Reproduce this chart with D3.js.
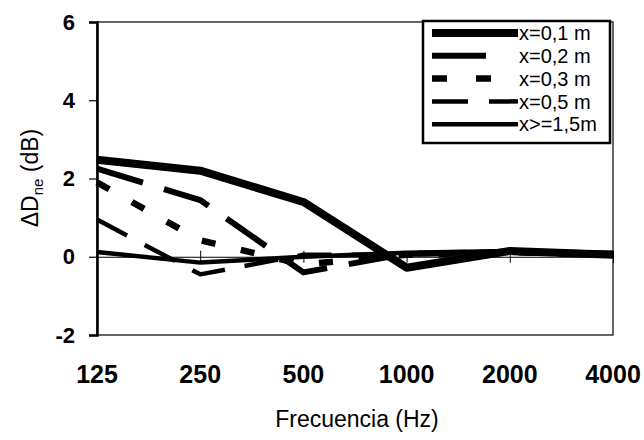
<!DOCTYPE html>
<html>
<head>
<meta charset="utf-8">
<script src="https://cdn.jsdelivr.net/npm/d3@7"></script>
<style>
  body { margin: 0; background: #fff; }
  svg { display: block; font-family: "Liberation Sans", Arial, sans-serif; }
</style>
</head>
<body>
<svg id="chart" width="644" height="440"></svg>
<script>
// values
var freqs = ["125", "250", "500", "1000", "2000", "4000"];
var yTicks = [-2, 0, 2, 4, 6];
var x01 = [2.48, 2.2, 1.4, -0.28, 0.15, 0.05];
var x02 = [2.25, 1.45, -0.4, 0.08, 0.12, 0.05];
var x03 = [1.9, 0.42, -0.2, 0.05, 0.12, 0.05];
var x05 = [0.95, -0.45, 0.05, 0.05, 0.12, 0.08];
var x15 = [0.12, -0.15, 0.0, 0.1, 0.15, 0.1];
var seriesNames = ["x=0,1 m", "x=0,2 m", "x=0,3 m", "x=0,5 m", "x>=1,5m"];

var series = [
  { name: seriesNames[0], values: x01, width: 8, dash: null, legendDash: null },
  { name: seriesNames[1], values: x02, width: 6, dash: "48,22", legendDash: "54,32" },
  { name: seriesNames[2], values: x03, width: 6.5, dash: "14,26", legendDash: "15,29" },
  { name: seriesNames[3], values: x05, width: 4.5, dash: "34,20", legendDash: "36,21" },
  { name: seriesNames[4], values: x15, width: 4.5, dash: null, legendDash: null }
];

var svg = d3.select("#chart"),
    margin = {top: 22, right: 31, bottom: 105, left: 97},
    width = +svg.attr("width") - margin.left - margin.right,
    height = +svg.attr("height") - margin.top - margin.bottom,
    g = svg.append("g").attr("transform", "translate(" + margin.left + "," + margin.top + ")");

var x = d3.scalePoint().domain(freqs).range([0, width]),
    y = d3.scaleLinear().domain([-2, 6]).range([height, 0]);

// plot frame
g.append("rect")
    .attr("width", width)
    .attr("height", height)
    .attr("fill", "none")
    .attr("stroke", "#000")
    .attr("stroke-width", 1.2);

// value axis
var yAxis = g.append("g")
    .call(d3.axisLeft(y).tickValues(yTicks).tickSize(8).tickPadding(14).tickFormat(d3.format("d")));
yAxis.select(".domain").attr("stroke-width", 2.5);
yAxis.selectAll(".tick line").attr("stroke-width", 1.2);
yAxis.selectAll("text")
    .attr("font-size", 22)
    .attr("font-weight", "bold")
    .attr("fill", "#000")
    .text(function(d) { return d < 0 ? "-" + Math.abs(d) : d; });

// category axis crossing at zero, labels at the bottom
var xAxis = g.append("g")
    .attr("transform", "translate(0," + y(0) + ")")
    .call(d3.axisBottom(x).tickSizeInner(5).tickSizeOuter(0).tickFormat(""));
xAxis.selectAll(".tick line").attr("y1", -6).attr("y2", 6).attr("stroke-width", 1);
xAxis.select(".domain").attr("stroke-width", 1);

g.append("g")
  .selectAll("text")
  .data(freqs)
  .enter().append("text")
    .attr("x", function(d) { return x(d); })
    .attr("y", height + 48)
    .attr("text-anchor", "middle")
    .attr("font-size", 25)
    .attr("font-weight", "bold")
    .text(function(d) { return d; });

// lines
var line = d3.line()
    .x(function(d, i) { return x(freqs[i]); })
    .y(function(d) { return y(d); });

g.selectAll(".serie")
  .data(series)
  .enter().append("path")
    .attr("class", "serie")
    .attr("d", function(d) { return line(d.values); })
    .attr("fill", "none")
    .attr("stroke", "#000")
    .attr("stroke-width", function(d) { return d.width; })
    .attr("stroke-dasharray", function(d) { return d.dash; })
    .attr("stroke-linejoin", "round");

// axis titles
svg.append("text")
    .attr("x", margin.left + width / 2 + 2)
    .attr("y", 427)
    .attr("text-anchor", "middle")
    .attr("font-size", 23)
    .text("Frecuencia (Hz)");

var yt = svg.append("text")
    .attr("transform", "translate(38,178) rotate(-90)")
    .attr("text-anchor", "middle")
    .attr("font-size", 23);
yt.append("tspan").text("\u0394D");
yt.append("tspan").attr("font-size", 15).attr("dy", 5).text("ne");
yt.append("tspan").attr("dy", -5).text(" (dB)");

// legend
var legend = svg.append("g").attr("transform", "translate(423,21)");
legend.append("rect")
    .attr("width", 187)
    .attr("height", 122)
    .attr("fill", "#fff")
    .attr("stroke", "#000")
    .attr("stroke-width", 2.5);

var item = legend.selectAll(".item")
  .data(series)
  .enter().append("g")
    .attr("class", "item")
    .attr("transform", function(d, i) { return "translate(0," + (12 + i * 22.8) + ")"; });

item.append("line")
    .attr("x1", 9)
    .attr("x2", 95)
    .attr("stroke", "#000")
    .attr("stroke-width", function(d) { return d.width; })
    .attr("stroke-dasharray", function(d) { return d.legendDash; });

item.append("text")
    .attr("x", 96)
    .attr("dy", "0.36em")
    .attr("font-size", 20)
    .text(function(d) { return d.name; });
</script>
</body>
</html>
